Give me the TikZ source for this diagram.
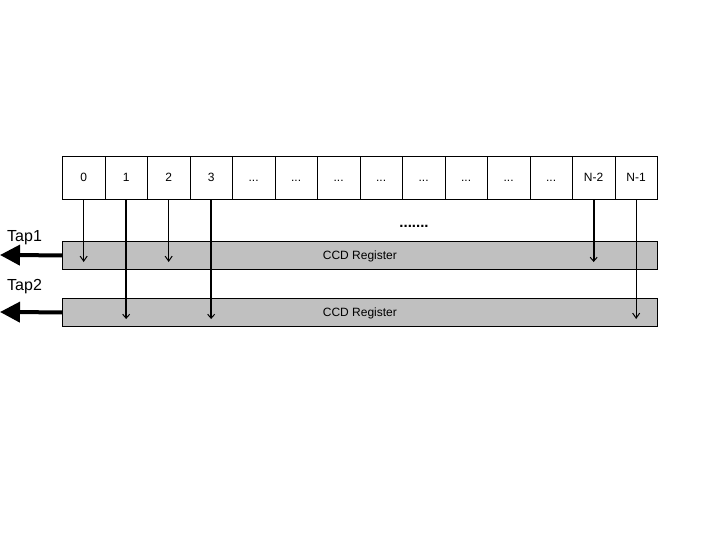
\documentclass[tikz,border=0pt]{standalone}
\usepackage{fontspec}
\setmainfont{Liberation Sans}
\usetikzlibrary{arrows.meta}
\newcommand\celldots{...}
\begin{document}
\begin{tikzpicture}[x=1pt,y=-1pt,
  cell/.style={draw,line width=0.8pt,minimum width=42.5pt,minimum height=43pt,inner sep=0pt,text height=8pt,text depth=0pt,font=\fontsize{12}{14}\selectfont,anchor=north west},
  reg/.style={draw,line width=0.8pt,fill={rgb,255:red,192;green,192;blue,192},minimum width=595pt,minimum height=28pt,inner sep=0pt,text height=9pt,text depth=0pt,anchor=north west,font=\fontsize{12}{14}\selectfont},
  thin arr/.style={line width=0.6pt,-{Straight Barb[length=5pt,width=7pt,line width=1pt]}},
  thick arr/.style={line width=1.8pt,-{Straight Barb[length=4pt,width=7pt,line width=1pt]}},
  tap/.style={line width=4pt,-{Triangle[length=20pt,width=20pt]}},
  taplabel/.style={font=\fontsize{16}{18}\selectfont,anchor=base west,inner sep=0pt}]
\useasboundingbox (0,0) rectangle (720,540);
\foreach \i/\t in {0/0,1/1,2/2,3/3,4/\celldots,5/\celldots,6/\celldots,7/\celldots,8/\celldots,9/\celldots,10/\celldots,11/\celldots,12/N-2,13/N-1}{
  \node[cell] (c\i) at ({62+42.5*\i},156) {\t};
}
\node[reg] (r1) at (62,241) {CCD Register};
\node[reg] (r2) at (62,298) {CCD Register};
\coordinate (t1) at (0,255);
\coordinate (t2) at (0,312);
\draw[tap] (r1.west) -- (t1);
\draw[tap] (r2.west) -- (t2);
\node[taplabel] (l1) at (7,241) {Tap1};
\node[taplabel] (l2) at (7,290) {Tap2};
\node[font=\bfseries\fontsize{15}{16}\selectfont,inner sep=0pt,anchor=base] (dots) at (414,228) {.......};
\draw[thin arr] (c0.south) -- (c0.south |- 0,262);
\draw[thin arr] (c2.south) -- (c2.south |- 0,262);
\draw[thick arr] (c12.south) -- (c12.south |- 0,262);
\draw[thick arr] (c1.south) -- (c1.south |- 0,319);
\draw[thick arr] (c3.south) -- (c3.south |- 0,319);
\draw[thin arr] (c13.south) -- (c13.south |- 0,319);
\end{tikzpicture}
\end{document}
